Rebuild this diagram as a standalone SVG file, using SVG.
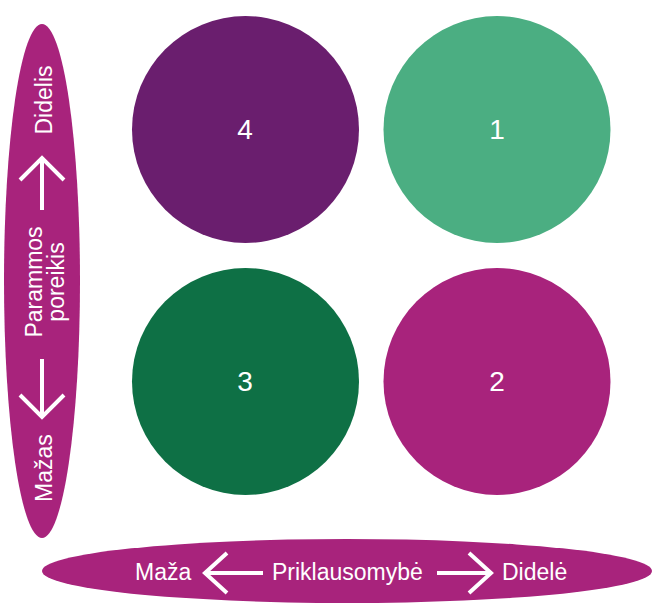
<svg xmlns="http://www.w3.org/2000/svg" width="652" height="606" viewBox="0 0 652 606">
  <style>
    .lbl { font-family: "Liberation Sans", Arial, sans-serif; fill: #ffffff; }
    .num { font-size: 28px; text-anchor: middle; }
    .axis { font-size: 23px; }
    .arrow { fill: none; stroke: #ffffff; stroke-width: 4; stroke-linecap: butt; stroke-linejoin: miter; }
  </style>
  <rect width="652" height="606" fill="#ffffff"/>

  <!-- vertical axis: support need -->
  <g id="axis-support">
    <ellipse cx="42" cy="281" rx="38" ry="257" fill="#a8237c"/>
    <text class="lbl axis" text-anchor="middle" transform="translate(52,100) rotate(-90)">Didelis</text>
    <text class="lbl axis" text-anchor="middle" transform="translate(42,282) rotate(-90)">Parammos</text>
    <text class="lbl axis" text-anchor="middle" transform="translate(64,282) rotate(-90)">poreikis</text>
    <text class="lbl axis" text-anchor="middle" transform="translate(52,468) rotate(-90)">Mažas</text>
  </g>

  <!-- horizontal axis: belonging -->
  <g id="axis-belonging">
    <ellipse cx="347" cy="571" rx="305" ry="32" fill="#a8237c"/>
    <text class="lbl axis" x="135" y="580">Maža</text>
    <text class="lbl axis" x="272" y="580">Priklausomybė</text>
    <text class="lbl axis" x="502" y="580">Didelė</text>
  </g>

  <!-- quadrants -->
  <g id="q4">
    <circle cx="245.5" cy="129.5" r="113.5" fill="#6a1e6e"/>
    <text class="lbl num" x="245" y="139">4</text>
  </g>
  <g id="q1">
    <circle cx="497" cy="129.5" r="113.5" fill="#4bae82"/>
    <text class="lbl num" x="497" y="139">1</text>
  </g>
  <g id="q3">
    <circle cx="245.5" cy="381.5" r="113.5" fill="#0e7045"/>
    <text class="lbl num" x="245" y="391">3</text>
  </g>
  <g id="q2">
    <circle cx="497" cy="381.5" r="113.5" fill="#a8237c"/>
    <text class="lbl num" x="497" y="391">2</text>
  </g>

  <!-- arrows -->
  <g id="connectors">
    <path class="arrow" d="M42,210 V157 M20,180 L42,158 L64,180"/>
    <path class="arrow" d="M42,359 V417 M20,395 L42,417 L64,395"/>
    <path class="arrow" d="M263,573 H204 M227,553 L205,573 L227,593"/>
    <path class="arrow" d="M437,573 H491 M469,553 L491,573 L469,593"/>
  </g>
</svg>
